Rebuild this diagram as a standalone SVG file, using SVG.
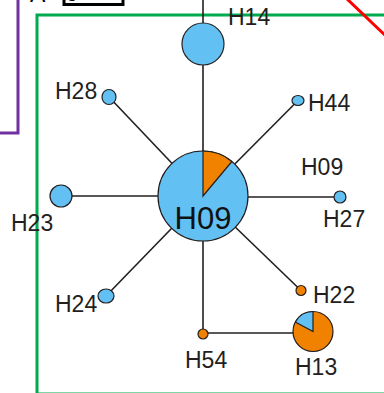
<svg xmlns="http://www.w3.org/2000/svg" width="384" height="393" viewBox="0 0 384 393">
<style>
.lbl{font-family:"Liberation Sans",Arial,sans-serif;font-size:23px;fill:#231f20}
.big{font-family:"Liberation Sans",Arial,sans-serif;font-size:31px;fill:#111;text-anchor:middle}
.edge{stroke:#231f20;stroke-width:1.6;fill:none}
.blue{fill:#62c0f2;stroke:#231f20;stroke-width:1.2}
.orange{fill:#f18200;stroke:#231f20;stroke-width:1.2}
</style>
<rect width="384" height="393" fill="#fff"/>
<g id="frame">
<path d="M18,0 V133 H0" fill="none" stroke="#7030a0" stroke-width="3"/>
<rect x="37" y="15" width="400" height="379" fill="none" stroke="#00aa4f" stroke-width="3"/>
<line x1="345" y1="-3" x2="389" y2="39" stroke="#ff0000" stroke-width="3"/>
<rect x="64" y="-12" width="59" height="16.5" fill="none" stroke="#000" stroke-width="3"/>
<text x="30" y="1.5" font-family="Liberation Sans,Arial,sans-serif" font-size="23" fill="#000">A</text>
<text x="66" y="1" font-family="Liberation Sans,Arial,sans-serif" font-size="23" fill="#000">9</text>
<text x="-15" y="365" font-family="Liberation Sans,Arial,sans-serif" font-size="28" fill="#000">e</text>
</g>
<g id="connectors" class="edge">
<line x1="203" y1="0" x2="203" y2="23"/>
<line x1="203" y1="65" x2="203" y2="196"/>
<line x1="109" y1="97" x2="203" y2="196"/>
<line x1="298" y1="100.5" x2="203" y2="196"/>
<line x1="61" y1="196" x2="203" y2="196"/>
<line x1="340" y1="197" x2="203" y2="197"/>
<line x1="106" y1="296" x2="203" y2="196"/>
<line x1="301" y1="290.5" x2="203" y2="196"/>
<line x1="203" y1="196" x2="203" y2="334"/>
<line x1="203" y1="333" x2="300" y2="333"/>
</g>
<g id="H14"><circle cx="203" cy="44" r="21" class="blue"/><text x="228" y="25" class="lbl">H14</text></g>
<g id="H28"><ellipse cx="109" cy="97" rx="7" ry="7.5" class="blue"/><text x="55" y="99" class="lbl">H28</text></g>
<g id="H44"><ellipse cx="298" cy="100.5" rx="6" ry="5" class="blue"/><text x="308" y="111" class="lbl">H44</text></g>
<g id="H23"><circle cx="61" cy="196" r="11" class="blue"/><text x="11" y="231" class="lbl">H23</text></g>
<g id="H27"><circle cx="340" cy="197" r="6" class="blue"/><text x="323" y="227" class="lbl">H27</text><text x="301" y="175" class="lbl">H09</text></g>
<g id="H09">
<circle cx="203" cy="196" r="45" class="blue"/>
<path d="M203,196 L203,151 A45,45 0 0 1 231.9,161.5 Z" class="orange"/>
<text x="203" y="229" class="big">H09</text>
</g>
<g id="H24"><ellipse cx="106" cy="296" rx="8" ry="7" class="blue"/><text x="55" y="312" class="lbl">H24</text></g>
<g id="H22"><circle cx="301" cy="290.5" r="5" class="orange"/><text x="313" y="303" class="lbl">H22</text></g>
<g id="H54"><circle cx="203" cy="334" r="5" class="orange"/><text x="185" y="368" class="lbl">H54</text></g>
<g id="H13">
<circle cx="313" cy="331.5" r="20" class="orange"/>
<path d="M313,331.5 L295.3,322.1 A20,20 0 0 1 313,311.5 Z" class="blue"/>
<text x="295" y="375" class="lbl">H13</text>
</g>
</svg>
